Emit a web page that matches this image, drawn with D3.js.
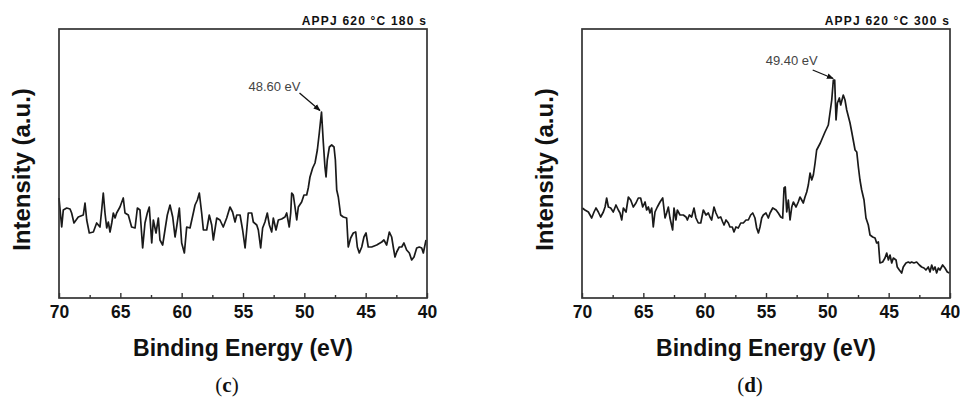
<!DOCTYPE html>
<html>
<head>
<meta charset="utf-8">
<script src="https://cdn.jsdelivr.net/npm/d3@7"></script>
<style>
  body { margin: 0; background: #fff; }
  svg { display: block; }
</style>
</head>
<body>
<svg id="chart" width="960" height="399"></svg>
<script>
// x axis ticks (binding energy, eV)
const majorTicks = [70, 65, 60, 55, 50, 45, 40];
const minorTicks = [67.5, 62.5, 57.5, 52.5, 47.5, 42.5];

// panel (c): APPJ 620 °C 180 s
const cTitle = 'APPJ 620 °C 180 s';
const cPeak = { energy: 48.60, label: '48.60 eV' };
const cEnergy = [
  70.00, 69.78, 69.65, 69.37, 69.10, 68.97, 68.78, 68.43, 68.02, 67.88,
  67.74, 67.53, 67.20, 66.93, 66.66, 66.52, 66.39, 66.25, 66.11, 65.98,
  65.84, 65.70, 65.57, 65.43, 65.30, 65.03, 64.76, 64.62, 64.35, 64.08,
  63.80, 63.61, 63.40, 63.18, 62.99, 62.80, 62.64, 62.44, 62.31, 62.09,
  61.90, 61.77, 61.55, 61.36, 61.17, 60.95, 60.73, 60.54, 60.41, 60.19,
  60.00, 59.78, 59.59, 59.32, 59.05, 58.91, 58.72, 58.56, 58.37, 58.23,
  57.96, 57.75, 57.55, 57.42, 57.14, 56.88, 56.61, 56.33, 56.06, 55.85,
  55.65, 55.51, 55.24, 55.03, 54.83,
  54.57, 54.29, 54.16, 53.88, 53.75, 53.56, 53.40, 53.21, 53.02, 52.85,
  52.66, 52.53, 52.31, 52.12, 51.85, 51.58, 51.44, 51.23, 51.11, 51.03,
  50.90, 50.76, 50.62, 50.49, 50.22, 50.03, 49.81, 49.68, 49.54, 49.32,
  49.13, 48.94, 48.78, 48.67, 48.60, 48.45, 48.32, 48.23, 48.13, 47.96,
  47.77, 47.58, 47.47, 47.36, 47.23, 47.04, 46.82, 46.55, 46.42, 46.22,
  46.01, 45.81, 45.68, 45.52, 45.32, 45.14, 44.97, 44.79, 44.51, 44.10,
  43.69, 43.51, 43.29, 43.07, 42.88, 42.75, 42.61, 42.47, 42.26, 42.06,
  41.88, 41.66, 41.44, 41.25, 41.06, 40.84, 40.63, 40.43, 40.30, 40.08
];
const cIntensity = [
  100, 71, 88, 90, 89, 85, 75, 81, 83, 95,
  78, 65, 66, 75, 71, 88, 105, 85, 70, 76,
  66, 75, 85, 80, 85, 91, 100, 85, 83, 71,
  70, 90, 88, 50, 75, 85, 91, 55, 78, 65,
  80, 58, 53, 68, 83, 93, 81, 61, 71, 90,
  55, 45, 71, 70, 85, 93, 98, 105, 85, 68,
  68, 83, 73, 58, 80, 78, 71, 80, 91, 86,
  76, 83, 83, 68, 50,
  85, 85, 76, 73, 68, 50, 70, 76, 85, 73,
  66, 80, 68, 78, 79, 81, 85, 71, 85, 105,
  103, 91, 78, 91, 96, 103, 103, 110, 121, 130,
  135, 148, 165, 178, 186, 155, 131, 121, 138, 151,
  153, 151, 138, 108, 101, 83, 81, 80, 51, 60,
  65, 66, 51, 45, 51, 61, 65, 51, 51, 53,
  56, 58, 53, 66, 61, 51, 41, 46, 51, 51,
  55, 48, 45, 38, 41, 50, 51, 50, 45, 58
];

// panel (d): APPJ 620 °C 300 s
const dTitle = 'APPJ 620 °C 300 s';
const dPeak = { energy: 49.40, label: '49.40 eV' };
const dEnergy = [
  69.98, 69.76, 69.48, 69.21, 69.02, 68.86, 68.67, 68.48, 68.26, 68.12,
  67.99, 67.85, 67.66, 67.45, 67.23, 67.04, 66.90, 66.76, 66.63, 66.41,
  66.22, 66.03, 65.82, 65.60, 65.41, 65.22, 65.05, 64.86, 64.73, 64.59,
  64.46, 64.32, 64.19, 64.05, 63.86, 63.64, 63.42, 63.23, 63.10, 62.96,
  62.83, 62.61, 62.50, 62.34, 62.23, 62.01, 61.74, 61.52, 61.41, 61.25,
  61.06, 60.87, 60.71, 60.52, 60.32, 60.11, 59.89, 59.70, 59.57, 59.43,
  59.24, 59.08, 58.89, 58.69, 58.53, 58.42, 58.26, 58.07, 57.94, 57.75,
  57.61, 57.45, 57.26, 57.06, 56.85, 56.63, 56.44, 56.25, 56.08, 55.90,
  55.76, 55.62, 55.49, 55.35, 55.22, 55.00, 54.81, 54.67, 54.45, 54.18,
  54.00, 53.80, 53.64, 53.53, 53.43, 53.31, 53.18, 53.04, 52.90, 52.77,
  52.55, 52.37, 52.23, 52.09, 51.96, 51.82, 51.68, 51.55, 51.41, 51.27,
  51.14, 51.00, 50.87, 50.57, 50.19, 49.92, 49.64, 49.51, 49.40, 49.29,
  49.18, 49.02, 48.91, 48.70, 48.56, 48.42, 48.15, 48.01, 47.74, 47.60,
  47.47, 47.34, 47.20, 47.01, 46.85, 46.66, 46.52, 46.30, 46.11, 45.98,
  45.84, 45.71, 45.49, 45.30, 45.16, 45.02, 44.89, 44.75, 44.62, 44.40,
  44.30, 44.13, 43.94, 43.81, 43.59, 43.40, 43.26, 43.13, 42.94, 42.72,
  42.50, 42.31, 42.12, 41.96, 41.77, 41.63, 41.49, 41.36, 41.22, 41.09,
  40.95, 40.82, 40.60, 40.41, 40.22, 40.05
];
const dIntensity = [
  90, 88, 86, 80, 86, 90, 86, 81, 86, 91,
  100, 91, 90, 86, 93, 88, 85, 78, 90, 86,
  101, 98, 91, 95, 100, 100, 91, 96, 88, 91,
  85, 90, 71, 86, 91, 96, 100, 80, 85, 91,
  80, 68, 90, 78, 88, 83, 83, 81, 78, 83,
  81, 90, 80, 75, 75, 88, 83, 85, 81, 78,
  91, 85, 80, 81, 76, 73, 78, 75, 71, 71,
  66, 71, 70, 75, 75, 78, 78, 83, 85, 80,
  70, 65, 71, 80, 83, 85, 80, 85, 90, 88,
  85, 81, 80, 110, 111, 86, 98, 78, 91, 96,
  91, 96, 101, 98, 95, 101, 106, 113, 125, 118,
  123, 135, 148, 155, 166, 173, 198, 218, 218, 178,
  195, 200, 193, 203, 198, 188, 175, 166, 148, 146,
  131, 118, 108, 98, 80, 73, 63, 61, 60, 55,
  56, 35, 36, 40, 45, 38, 43, 35, 40, 38,
  31, 28, 25, 31, 35, 36, 35, 36, 35, 36,
  33, 31, 30, 28, 31, 26, 33, 28, 31, 25,
  30, 28, 33, 30, 26, 25
];

const svg = d3.select('#chart');
const sansBold = "'Liberation Sans', Arial, sans-serif";

svg.append('defs').append('marker')
  .attr('id', 'arrow')
  .attr('viewBox', '0 0 10 10')
  .attr('refX', 9)
  .attr('refY', 5)
  .attr('markerWidth', 7)
  .attr('markerHeight', 7)
  .attr('markerUnits', 'userSpaceOnUse')
  .attr('orient', 'auto')
  .append('path')
  .attr('d', 'M0,1 L10,5 L0,9 Z')
  .attr('fill', '#111');

const plotTop = 29;
const plotBottom = 298;
const plotWidth = 368;

const drawPanel = (p) => {
  const x = d3.scaleLinear().domain([70, 40]).range([p.left, p.left + plotWidth]);
  const y = d3.scaleLinear().domain([0, 269]).range([plotBottom, plotTop]);
  const g = svg.append('g');
  const data = d3.zip(p.energy, p.intensity);

  // spectrum
  g.append('path')
    .datum(data)
    .attr('fill', 'none')
    .attr('stroke', '#1a1a1a')
    .attr('stroke-width', 1.7)
    .attr('stroke-linejoin', 'round')
    .attr('d', d3.line().x(d => x(d[0])).y(d => y(d[1])));

  // frame
  g.append('rect')
    .attr('x', x(70))
    .attr('y', y(269))
    .attr('width', x(40) - x(70))
    .attr('height', y(0) - y(269))
    .attr('fill', 'none')
    .attr('stroke', '#333')
    .attr('stroke-width', 1.7);

  // ticks
  const xAxis = g.append('g')
    .attr('transform', `translate(0,${plotBottom})`)
    .call(d3.axisBottom(x).tickValues(majorTicks).tickSize(-5).tickPadding(8).tickFormat(d3.format('d')));
  xAxis.select('.domain').remove();
  xAxis.selectAll('line').attr('stroke', '#333').attr('stroke-width', 1.4);
  xAxis.selectAll('text')
    .attr('font-family', sansBold)
    .attr('font-weight', 'bold')
    .attr('font-size', 17.5)
    .attr('fill', '#111');

  const minorAxis = g.append('g')
    .attr('transform', `translate(0,${plotBottom})`)
    .call(d3.axisBottom(x).tickValues(minorTicks).tickSize(-3).tickFormat(''));
  minorAxis.select('.domain').remove();
  minorAxis.selectAll('line').attr('stroke', '#333').attr('stroke-width', 1.4);

  // axis titles
  g.append('text')
    .attr('x', (x(70) + x(40)) / 2)
    .attr('y', 356)
    .attr('text-anchor', 'middle')
    .attr('font-family', sansBold)
    .attr('font-weight', 'bold')
    .attr('font-size', 23)
    .attr('fill', '#111')
    .text('Binding Energy (eV)');

  g.append('text')
    .attr('transform', `translate(${x(70) - 29},${(plotTop + plotBottom) / 2 + 6}) rotate(-90)`)
    .attr('text-anchor', 'middle')
    .attr('font-family', sansBold)
    .attr('font-weight', 'bold')
    .attr('font-size', 24)
    .attr('fill', '#111')
    .text('Intensity (a.u.)');

  // sample title
  g.append('text')
    .attr('x', x(40))
    .attr('y', 25)
    .attr('text-anchor', 'end')
    .attr('font-family', sansBold)
    .attr('font-weight', 'bold')
    .attr('font-size', 12)
    .attr('letter-spacing', 1.2)
    .attr('fill', '#111')
    .text(p.title);

  // peak annotation
  const peakI = p.intensity[p.energy.indexOf(p.peak.energy)];
  const px = x(p.peak.energy);
  const py = y(peakI);
  g.append('line')
    .attr('x1', px + p.arrowFrom[0])
    .attr('y1', py + p.arrowFrom[1])
    .attr('x2', px - 1.5)
    .attr('y2', py - 1.5)
    .attr('stroke', '#111')
    .attr('stroke-width', 1.3)
    .attr('marker-end', 'url(#arrow)');
  g.append('text')
    .attr('x', px + p.labelAt[0])
    .attr('y', py + p.labelAt[1])
    .attr('text-anchor', 'middle')
    .attr('font-family', "'Liberation Sans', Arial, sans-serif")
    .attr('font-size', 13)
    .attr('fill', '#444')
    .text(p.peak.label);

  // panel letter
  const letter = g.append('text')
    .attr('x', (x(70) + x(40)) / 2 - 16)
    .attr('y', 392)
    .attr('text-anchor', 'middle')
    .attr('font-family', "'Liberation Serif', 'DejaVu Serif', serif")
    .attr('font-size', 21)
    .attr('fill', '#111');
  letter.append('tspan').text('(');
  letter.append('tspan').attr('font-weight', 'bold').text(p.letter);
  letter.append('tspan').text(')');
};

drawPanel({
  left: 59, title: cTitle, energy: cEnergy, intensity: cIntensity,
  peak: cPeak, letter: 'c', arrowFrom: [-22, -19], labelAt: [-47, -21],
});
drawPanel({
  left: 582, title: dTitle, energy: dEnergy, intensity: dIntensity,
  peak: dPeak, letter: 'd', arrowFrom: [-22, -10], labelAt: [-43, -15],
});
</script>
</body>
</html>
